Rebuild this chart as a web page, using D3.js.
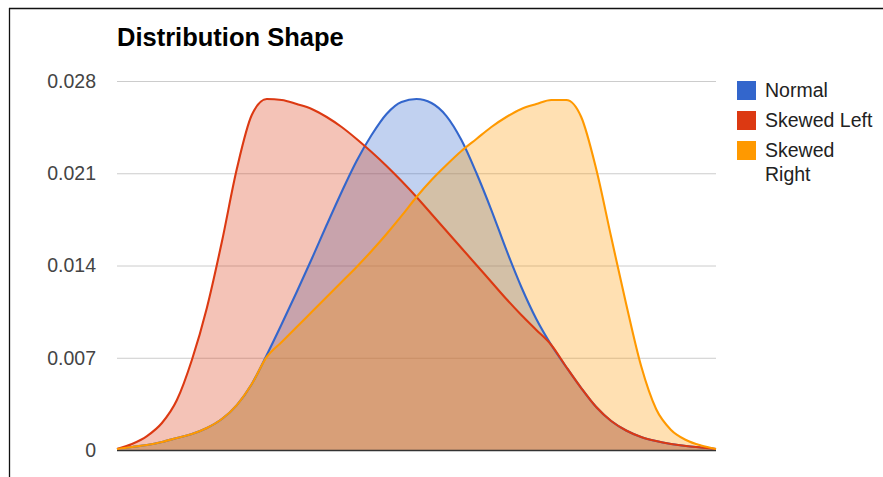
<!DOCTYPE html>
<html><head><meta charset="utf-8">
<script src="https://cdn.jsdelivr.net/npm/d3@7"></script>
<style>
html,body{margin:0;padding:0;background:#fff;}
svg{display:block;font-family:Arial,"Liberation Sans",sans-serif;}
</style>
</head><body>
<svg id="chart" width="883" height="477"></svg>
<script>
// ---- data ----
const title = "Distribution Shape";
const seriesNames = ["Normal", "Skewed Left", "Skewed Right"];
const seriesColors = ["#3366cc", "#dc3912", "#ff9900"];
const normal = [0.00008,0.00023,0.00038,0.00061,0.00091,0.00121,0.00167,0.00235,0.00341,0.00501,
  0.00721,0.00956,0.01199,0.01449,0.01707,0.01958,0.02193,0.02390,0.02550,0.02641,
  0.02663,0.02633,0.02534,0.02352,0.02102,0.01821,0.01518,0.01237,0.00994,0.00797,
  0.00630,0.00470,0.00326,0.00220,0.00148,0.00099,0.00068,0.00046,0.00030,0.00019,0.00008];
const skewedLeft = [0.00008,0.00046,0.00106,0.00205,0.00379,0.00683,0.01078,0.01578,0.02132,0.02542,
  0.02663,0.02656,0.02625,0.02588,0.02527,0.02451,0.02360,0.02261,0.02155,0.02041,
  0.01920,0.01791,0.01662,0.01533,0.01404,0.01275,0.01146,0.01024,0.00911,0.00797,
  0.00630,0.00470,0.00326,0.00220,0.00148,0.00099,0.00068,0.00046,0.00030,0.00019,0.00008];
const skewedRight = [0.00008,0.00023,0.00038,0.00061,0.00091,0.00121,0.00167,0.00235,0.00341,0.00501,
  0.00706,0.00820,0.00933,0.01047,0.01161,0.01275,0.01389,0.01510,0.01639,0.01776,
  0.01920,0.02049,0.02163,0.02269,0.02360,0.02451,0.02527,0.02588,0.02625,0.02656,
  0.02656,0.02527,0.02132,0.01616,0.01108,0.00637,0.00311,0.00152,0.00076,0.00034,0.00008];
const tickValues = [0, 0.007, 0.014, 0.021, 0.028];
const tickLabels = ["0", "0.007", "0.014", "0.021", "0.028"];

// ---- layout ----
const svg = d3.select("#chart");
const plot = {left: 117, right: 716, top: 81, bottom: 450};
const seriesData = [normal, skewedLeft, skewedRight];

const x = d3.scaleLinear().domain([0, normal.length - 1]).range([plot.left, plot.right]);
const y = d3.scaleLinear().domain([0, 0.028]).range([plot.bottom, plot.top]);

// frame
svg.append("line").attr("x1", 9).attr("x2", 883).attr("y1", 8.5).attr("y2", 8.5)
  .attr("stroke", "#111").attr("stroke-width", 1.3);
svg.append("line").attr("x1", 9.5).attr("x2", 9.5).attr("y1", 8).attr("y2", 477)
  .attr("stroke", "#111").attr("stroke-width", 1.3);

// title
svg.append("text").attr("x", 117).attr("y", 46)
  .attr("font-size", "25.5px").attr("font-weight", "bold").attr("fill", "#000")
  .text(title);

// y axis + grid
const yAxis = d3.axisLeft(y).tickValues(tickValues)
  .tickFormat((d, i) => tickLabels[i])
  .tickSize(-(plot.right - plot.left)).tickPadding(21);
const gA = svg.append("g").attr("transform", `translate(${plot.left},0)`).call(yAxis);
gA.select(".domain").remove();
gA.selectAll(".tick line").attr("stroke", "#cccccc").attr("stroke-width", 1);
gA.selectAll(".tick text").attr("fill", "#444").attr("font-size", "19.5px")
  .attr("font-family", "Arial, 'Liberation Sans', sans-serif");

// areas
const area = d3.area().x((d, i) => x(i)).y0(y(0)).y1(d => y(d)).curve(d3.curveMonotoneX);
const line = d3.line().x((d, i) => x(i)).y(d => y(d)).curve(d3.curveMonotoneX);

seriesData.forEach((s, k) => {
  svg.append("path").datum(s).attr("d", area)
    .attr("fill", seriesColors[k]).attr("fill-opacity", 0.3).attr("stroke", "none");
});

// baseline
svg.append("line").attr("x1", plot.left).attr("x2", plot.right)
  .attr("y1", y(0) + 0.5).attr("y2", y(0) + 0.5).attr("stroke", "#333").attr("stroke-width", 1.3);

seriesData.forEach((s, k) => {
  svg.append("path").datum(s).attr("d", line)
    .attr("fill", "none").attr("stroke", seriesColors[k]).attr("stroke-width", 2.1)
    .attr("stroke-linejoin", "round");
});

// legend
const legendLines = [["Normal"], ["Skewed Left"], ["Skewed", "Right"]];
const leg = svg.append("g");
legendLines.forEach((lines, k) => {
  const top = 81 + k * 30;
  leg.append("rect").attr("x", 737).attr("y", top).attr("width", 19).attr("height", 19)
    .attr("fill", seriesColors[k]);
  lines.forEach((t, j) => {
    leg.append("text").attr("x", 765).attr("y", top + 16 + j * 23.5)
      .attr("font-size", "19.5px").attr("fill", "#222").text(t);
  });
});
</script>
</body></html>
